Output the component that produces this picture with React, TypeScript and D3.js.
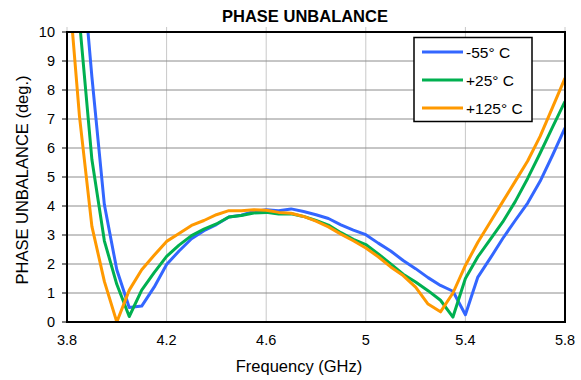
import * as d3 from 'd3';

const freqs = [3.8, 3.85, 3.9, 3.95, 4.0, 4.05, 4.1, 4.15, 4.2, 4.25, 4.3, 4.35, 4.4, 4.45, 4.5, 4.55, 4.6, 4.65, 4.7, 4.75, 4.8, 4.85, 4.9, 4.95, 5.0, 5.05, 5.1, 5.15, 5.2, 5.25, 5.3, 5.35, 5.4, 5.45, 5.5, 5.55, 5.6, 5.65, 5.7, 5.75, 5.8];

const minus55 = [18, 13.4, 8.45, 4.05, 1.8, 0.5, 0.55, 1.2, 1.98, 2.45, 2.87, 3.15, 3.36, 3.62, 3.68, 3.81, 3.87, 3.84, 3.9, 3.81, 3.7, 3.57, 3.35, 3.17, 3.01, 2.72, 2.45, 2.12, 1.84, 1.53, 1.26, 1.06, 0.25, 1.55, 2.2, 2.88, 3.5, 4.1, 4.85, 5.75, 6.69];
const plus25 = [15, 10.4, 5.6, 2.8, 1.3, 0.19, 1.1, 1.7, 2.26, 2.65, 2.98, 3.2, 3.38, 3.62, 3.67, 3.76, 3.78, 3.72, 3.73, 3.64, 3.5, 3.34, 3.08, 2.85, 2.67, 2.35, 2.0, 1.65, 1.38, 1.08, 0.75, 0.17, 1.5, 2.25, 2.85, 3.45, 4.15, 4.95, 5.82, 6.72, 7.61];
const plus125 = [12.3, 7.1, 3.3, 1.4, 0.0, 1.1, 1.8, 2.3, 2.78, 3.05, 3.33, 3.5, 3.7, 3.84, 3.84, 3.87, 3.85, 3.78, 3.75, 3.64, 3.48, 3.28, 3.03, 2.8, 2.55, 2.25, 1.9, 1.6, 1.2, 0.62, 0.35, 1.0, 1.95, 2.75, 3.45, 4.15, 4.85, 5.55, 6.4, 7.4, 8.41];

const seriesNames = ['-55° C', '+25° C', '+125° C'];
const seriesColors = ['#3366ff', '#00b050', '#ff9900'];
const seriesValues = [minus55, plus25, plus125];

const xTicks = [3.8, 4.2, 4.6, 5.0, 5.4, 5.8];
const yTicks = [0, 1, 2, 3, 4, 5, 6, 7, 8, 9, 10];

export default function App() {
  const width = 581;
  const height = 380;
  const margin = { top: 32, right: 16, bottom: 58, left: 67 };
  const innerW = width - margin.left - margin.right;
  const innerH = height - margin.top - margin.bottom;

  const x = d3.scaleLinear().domain([3.8, 5.8]).range([0, innerW]);
  const y = d3.scaleLinear().domain([0, 10]).range([innerH, 0]);

  const line = d3.line<number>()
    .x((_, i) => x(freqs[i]))
    .y(d => y(d));

  const font = 'Arial, "Liberation Sans", sans-serif';

  return (
    <svg width={width} height={height} style={{ position: 'absolute', left: 0, top: 0 }} fontFamily={font}>
      <defs>
        <clipPath id="plot">
          <rect x={0} y={0} width={innerW} height={innerH} />
        </clipPath>
      </defs>
      <text x={305} y={22} textAnchor="middle" fontSize={16.5} fontWeight="bold">PHASE UNBALANCE</text>
      <g transform={`translate(${margin.left},${margin.top})`}>
        {xTicks.map(t => (
          <line key={'vx' + t} x1={x(t)} x2={x(t)} y1={-5} y2={innerH} stroke="#c8c8c8" strokeWidth={1} />
        ))}
        {yTicks.map(t => (
          <line key={'hy' + t} x1={0} x2={innerW} y1={y(t)} y2={y(t)} stroke="#8c8c8c" strokeWidth={1} />
        ))}
        {yTicks.map(t => (
          <g key={'ty' + t}>
            <line x1={-5} x2={0} y1={y(t)} y2={y(t)} stroke="#000" />
            <text x={-12} y={y(t)} dy="0.35em" textAnchor="end" fontSize={14.5}>{t}</text>
          </g>
        ))}
        {xTicks.map(t => (
          <text key={'tx' + t} x={x(t)} y={innerH + 23} textAnchor="middle" fontSize={14.5}>{t}</text>
        ))}
        <g clipPath="url(#plot)">
          {seriesValues.map((vals, i) => (
            <path key={seriesNames[i]} d={line(vals) ?? ''} fill="none" stroke={seriesColors[i]} strokeWidth={3} strokeLinejoin="round" />
          ))}
        </g>
        <rect x={0} y={0} width={innerW} height={innerH} fill="none" stroke="#000" strokeWidth={2} />
        <g transform={`translate(${347},${5.5})`}>
          <rect x={0} y={0} width={118} height={84} fill="#fff" stroke="#000" strokeWidth={1.5} />
          {seriesNames.map((name, i) => (
            <g key={name} transform={`translate(0,${14.5 + i * 28})`}>
              <line x1={8} x2={49} y1={0} y2={0} stroke={seriesColors[i]} strokeWidth={3} />
              <text x={52} y={0} dy="0.36em" fontSize={15.5}>{name}</text>
            </g>
          ))}
        </g>
      </g>
      <text x={299} y={372} textAnchor="middle" fontSize={16.5}>Frequency (GHz)</text>
      <text transform={`translate(28,180) rotate(-90)`} textAnchor="middle" fontSize={16.5}>PHASE UNBALANCE (deg.)</text>
    </svg>
  );
}
